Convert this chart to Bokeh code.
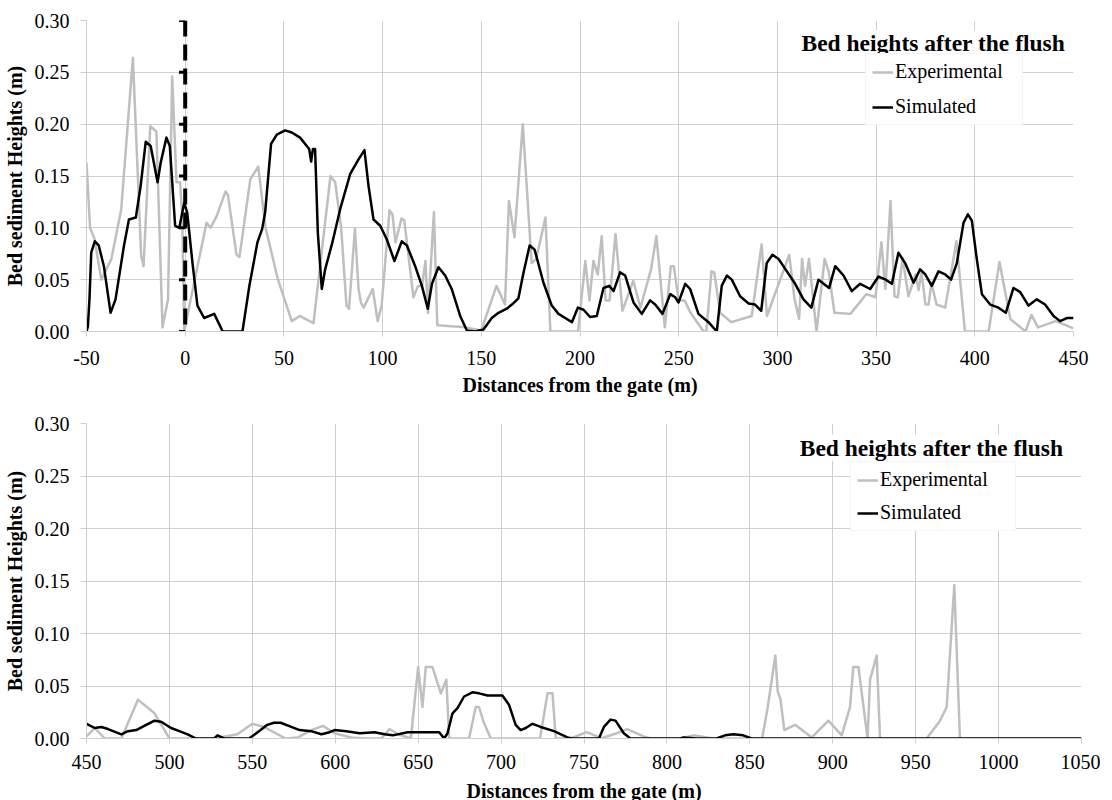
from bokeh.plotting import figure
from bokeh.models import (Range1d, FixedTicker, PrintfTickFormatter, Legend, LegendItem,
                          Label, Span)
from bokeh.layouts import column
from bokeh.embed import file_html
from bokeh.resources import INLINE

# ---------------- data ----------------
y_ticks = [0.0, 0.05, 0.10, 0.15, 0.20, 0.25, 0.30]
top_x_ticks = list(range(-50, 451, 50))
bot_x_ticks = list(range(450, 1051, 50))
gate_x = 0

exp_top_x = [-50, -48.2, -45.9, -42.5, -37.4, -32.4, -26.5, -22.3, -21.1, -17.7, -14.6, -11.5, -8.7,
             -6.6, -4.4, -2.6, -1.5, -0.5, 1.7, 10.8, 12.8, 15.9, 20.4, 21.6, 26.0, 27.5, 33.0, 37.0,
             40.7, 47.0, 54.0, 58.0, 65.0, 73.6, 76.0, 79.0, 81.7, 83.0, 86.0, 87.8, 89.0, 90.4, 95.0,
             97.5, 99.5, 103.5, 105.0, 106.5, 109.6, 111.0, 115.6, 118.0, 120.0, 121.7, 123.0, 126.0,
             127.7, 142.0, 150.0, 157.7, 162.0, 164.0, 166.8, 171.0, 175.5, 177.8, 182.5, 185.0, 199.0,
             202.7, 204.8, 206.8, 209.0, 211.0, 213.0, 215.0, 218.0, 221.5, 227.0, 230.6, 236.0, 238.7,
             243.0, 246.0, 247.5, 250.0, 253.0, 256.0, 262.6, 264.0, 266.6, 268.0, 271.0, 276.7, 287.0,
             292.0, 294.7, 306.0, 308.7, 311.0, 312.5, 314.0, 316.0, 319.8, 323.9, 326.0, 328.9, 337.0,
             345.0, 349.7, 352.7, 354.7, 357.3, 359.3, 361.0, 363.4, 366.4, 370.0, 371.5, 373.0, 375.0,
             376.6, 378.0, 380.6, 385.0, 390.7, 395.0, 407.0, 412.5, 418.0, 425.7, 428.7, 432.0, 441.0,
             450.0]
exp_top_y = [0.163, 0.100, 0.089, 0.050, 0.070, 0.118, 0.264, 0.073, 0.063, 0.198, 0.193, 0.004, 0.031,
             0.246, 0.144, 0.144, 0.110, 0.000, 0.021, 0.105, 0.100, 0.111, 0.135, 0.132, 0.074, 0.072,
             0.147, 0.159, 0.100, 0.050, 0.010, 0.015, 0.008, 0.150, 0.144, 0.100, 0.025, 0.022, 0.099,
             0.041, 0.028, 0.023, 0.041, 0.010, 0.025, 0.117, 0.113, 0.086, 0.109, 0.107, 0.033, 0.044,
             0.044, 0.068, 0.018, 0.115, 0.006, 0.004, 0.001, 0.044, 0.026, 0.126, 0.091, 0.200, 0.066,
             0.070, 0.110, 0.000, 0.000, 0.068, 0.030, 0.068, 0.055, 0.092, 0.030, 0.030, 0.094, 0.020,
             0.049, 0.023, 0.060, 0.092, 0.004, 0.063, 0.063, 0.030, 0.030, 0.018, 0.000, 0.000, 0.058,
             0.057, 0.018, 0.009, 0.015, 0.084, 0.015, 0.074, 0.031, 0.012, 0.070, 0.044, 0.070, 0.000,
             0.070, 0.058, 0.018, 0.017, 0.036, 0.033, 0.086, 0.041, 0.126, 0.034, 0.033, 0.071, 0.034,
             0.055, 0.040, 0.057, 0.026, 0.026, 0.047, 0.026, 0.023, 0.087, 0.000, 0.000, 0.067, 0.012,
             0.000, 0.016, 0.004, 0.010, 0.003]

sim_top_x = [-50, -49.3, -48.5, -47.6, -45.8, -43.8, -41.2, -37.8, -35.3, -31.0, -28.5, -25.0, -22.6,
             -20.0, -17.5, -14.0, -12.4, -9.5, -7.8, -5.1, -3.0, -0.5, 1.0, 3.7, 6.2, 9.6, 14.7, 19.0,
             29.0, 32.5, 36.6, 39.0, 40.5, 43.5, 46.4, 50.6, 54.0, 58.2, 61.6, 62.8, 63.8, 64.7, 65.8,
             67.2, 69.2, 70.9, 74.3, 78.5, 83.6, 87.8, 90.8, 92.9, 95.4, 98.8, 102.1, 106.0, 109.7,
             112.3, 116.5, 119.9, 122.9, 125.0, 128.3, 131.7, 135.0, 139.3, 142.7, 146.9, 151.1, 155.3,
             158.7, 162.9, 165.5, 168.8, 171.4, 174.5, 177.0, 181.5, 185.7, 189.1, 192.5, 195.9, 198.9,
             201.8, 205.1, 208.5, 211.9, 214.8, 217.0, 220.3, 222.9, 227.1, 231.3, 235.5, 238.1, 241.8,
             245.7, 248.2, 249.9, 253.3, 255.8, 260.0, 265.1, 269.3, 271.8, 274.4, 276.9, 281.1, 285.4,
             288.7, 291.8, 294.6, 297.5, 300.6, 304.8, 309.0, 313.2, 317.2, 320.8, 326.2, 329.3, 333.5,
             337.7, 341.9, 347.0, 351.2, 354.9, 358.0, 361.3, 364.7, 369.0, 372.3, 374.9, 378.2, 381.6,
             385.0, 388.0, 390.9, 394.3, 396.5, 398.5, 401.0, 403.6, 407.8, 412.0, 415.7, 419.6, 423.0,
             427.2, 431.4, 435.6, 439.9, 443.2, 446.6, 450.0]
sim_top_y = [0.000, 0.005, 0.031, 0.076, 0.087, 0.083, 0.063, 0.018, 0.031, 0.083, 0.108, 0.110, 0.140,
             0.183, 0.179, 0.144, 0.163, 0.187, 0.179, 0.102, 0.100, 0.124, 0.115, 0.066, 0.025, 0.013,
             0.017, 0.000, 0.000, 0.044, 0.086, 0.099, 0.115, 0.181, 0.190, 0.194, 0.192, 0.187, 0.179,
             0.176, 0.164, 0.176, 0.176, 0.095, 0.041, 0.060, 0.084, 0.118, 0.152, 0.166, 0.175, 0.140,
             0.108, 0.102, 0.089, 0.068, 0.087, 0.083, 0.063, 0.044, 0.022, 0.046, 0.062, 0.054, 0.041,
             0.015, 0.001, 0.000, 0.002, 0.013, 0.018, 0.022, 0.026, 0.032, 0.057, 0.083, 0.079, 0.047,
             0.025, 0.017, 0.013, 0.009, 0.023, 0.021, 0.014, 0.015, 0.042, 0.044, 0.039, 0.057, 0.054,
             0.028, 0.017, 0.030, 0.026, 0.017, 0.036, 0.033, 0.028, 0.046, 0.041, 0.017, 0.009, 0.000,
             0.044, 0.054, 0.050, 0.034, 0.027, 0.026, 0.020, 0.066, 0.074, 0.070, 0.058, 0.046, 0.031,
             0.023, 0.050, 0.042, 0.063, 0.054, 0.039, 0.046, 0.041, 0.053, 0.050, 0.046, 0.076, 0.066,
             0.047, 0.060, 0.055, 0.044, 0.058, 0.055, 0.050, 0.066, 0.105, 0.113, 0.107, 0.070, 0.036,
             0.026, 0.023, 0.018, 0.042, 0.038, 0.025, 0.031, 0.026, 0.015, 0.010, 0.013, 0.013]

exp_bot_x = [450, 455, 461, 471, 481, 491, 500, 527, 541, 550, 557, 570, 577.5, 585.5, 592.6, 599.6,
             609.6, 617.7, 627.7, 632.7, 637.8, 645.6, 650, 652.6, 654.6, 658.6, 663.7, 667, 668.7,
             680.7, 684.7, 686.7, 689.4, 693.8, 723.5, 728, 731, 733, 742, 751.6, 758, 760, 768, 776,
             786, 790, 808, 816, 824, 828, 857.4, 860.8, 865.4, 866.8, 868.5, 870.8, 877.3, 887.4,
             897.4, 905.4, 910.4, 912.4, 915.5, 921, 922.5, 926.5, 928.5, 956.6, 964.7, 968.7, 973.3,
             976.7, 1050]
exp_bot_y = [0.002, 0.010, 0.0, 0.0, 0.037, 0.024, 0.0, 0.0, 0.004, 0.014, 0.011, 0.0, 0.001, 0.008,
             0.012, 0.005, 0.001, 0.0, 0.0, 0.009, 0.004, 0.0, 0.068, 0.030, 0.068, 0.068, 0.043, 0.056,
             0.0, 0.0, 0.030, 0.030, 0.016, 0.0, 0.0, 0.043, 0.043, 0.0, 0.0, 0.006, 0.002, 0.0, 0.004,
             0.009, 0.002, 0.0, 0.0, 0.003, 0.001, 0.0, 0.0, 0.030, 0.079, 0.045, 0.037, 0.008, 0.013,
             0.001, 0.017, 0.003, 0.030, 0.068, 0.068, 0.0, 0.056, 0.079, 0.0, 0.0, 0.017, 0.030, 0.146,
             0.0, 0.0]

sim_bot_x = [450, 455, 459, 463, 471, 475, 480, 486, 491, 495, 501, 506, 511, 516, 527, 529, 533, 548,
             555, 559, 563, 567, 573.5, 578.5, 585.5, 591.6, 596.6, 599.6, 606.6, 614.7, 623.7, 629.8,
             634.7, 643.6, 649.6, 657.6, 662.7, 665.7, 667.7, 670.7, 673.7, 677.7, 682.7, 686.7, 691.8,
             700.8, 704.8, 708.8, 711.8, 714.9, 718.9, 723.9, 731.9, 740, 743, 759, 762, 766, 769, 774,
             778, 808, 810, 818, 830, 835, 840, 846, 851, 1050]
sim_bot_y = [0.014, 0.010, 0.011, 0.009, 0.004, 0.007, 0.008, 0.013, 0.017, 0.016, 0.010, 0.007, 0.004,
             0.0, 0.0, 0.003, 0.0, 0.0, 0.008, 0.013, 0.015, 0.015, 0.011, 0.008, 0.007, 0.004, 0.006,
             0.008, 0.007, 0.005, 0.006, 0.004, 0.003, 0.006, 0.006, 0.006, 0.006, 0.0, 0.005, 0.024,
             0.029, 0.040, 0.044, 0.043, 0.041, 0.041, 0.032, 0.013, 0.008, 0.010, 0.014, 0.011, 0.007,
             0.001, 0.0, 0.0, 0.011, 0.018, 0.017, 0.005, 0.0, 0.0, 0.001, 0.0, 0.0, 0.003, 0.004, 0.003,
             0.0, 0.0]

legend_title = "Bed heights after the flush"
x_title = "Distances from the gate (m)"
y_title = "Bed sediment Heights (m)"

# ---------------- style ----------------
FONT = "Liberation Serif"
GRID = "#cfcfcf"
EXP_COLOR = "#bfbfbf"
SIM_COLOR = "#000000"
FS = "20px"


def make_fig(x_start, x_end, xticks, frame_w, frame_h, b_top, b_bottom, b_right,
             x_std, x_title_std):
    p = figure(x_range=Range1d(x_start, x_end), y_range=Range1d(0, 0.30),
               frame_width=frame_w, frame_height=frame_h,
               min_border_left=83, min_border_top=b_top, min_border_bottom=b_bottom,
               min_border_right=b_right, output_backend="svg", toolbar_location=None)
    p.outline_line_color = None
    p.background_fill_color = "white"
    p.border_fill_color = "white"
    p.xaxis.ticker = FixedTicker(ticks=xticks)
    p.yaxis.ticker = FixedTicker(ticks=y_ticks)
    p.xaxis.formatter = PrintfTickFormatter(format="%d")
    p.yaxis.formatter = PrintfTickFormatter(format="%.2f")
    for ax in (p.xaxis[0], p.yaxis[0]):
        ax.axis_line_color = GRID
        ax.major_tick_line_color = GRID
        ax.minor_tick_line_color = None
        ax.major_tick_in = 0
        ax.major_tick_out = 6
        ax.major_label_text_font = FONT
        ax.major_label_text_font_size = FS
        ax.major_label_text_color = "black"
        ax.axis_label_text_font = FONT
        ax.axis_label_text_font_size = FS
        ax.axis_label_text_font_style = "bold"
        ax.axis_label_text_color = "black"
    p.xaxis.major_tick_out = 5
    p.xaxis.major_label_standoff = x_std
    p.xaxis.axis_label_standoff = x_title_std
    p.yaxis.major_label_standoff = 11
    p.yaxis.axis_label_standoff = 6
    p.xaxis.axis_label = x_title
    p.yaxis.axis_label = y_title
    p.xgrid.grid_line_color = GRID
    p.ygrid.grid_line_color = GRID
    p.xgrid.ticker = FixedTicker(ticks=xticks)
    p.ygrid.ticker = FixedTicker(ticks=y_ticks)
    return p


def add_series(p, ex, ey, sx, sy, loc, spacing, label_w, title_x, title_y):
    r_exp = p.line(ex, ey, line_color=EXP_COLOR, line_width=2.5, line_join="round")
    r_sim = p.line(sx, sy, line_color=SIM_COLOR, line_width=2.5, line_join="round")
    legend = Legend(items=[LegendItem(label="Experimental", renderers=[r_exp]),
                           LegendItem(label="Simulated", renderers=[r_sim])],
                    location=loc, padding=6, spacing=spacing, margin=0,
                    glyph_width=21, glyph_height=20, label_height=20, label_width=label_w,
                    label_standoff=2, label_text_font=FONT, label_text_font_size=FS,
                    label_text_color="black",
                    border_line_color="#ececec", background_fill_color="white",
                    background_fill_alpha=1.0)
    p.add_layout(legend)
    p.add_layout(Label(x=title_x, y=title_y, text=legend_title, text_align="center",
                       text_baseline="middle", text_font=FONT, text_font_size="23.5px",
                       text_font_style="bold", text_color="black",
                       background_fill_color="white", background_fill_alpha=1.0))
    return r_exp, r_sim


# top chart
p1 = make_fig(-50, 450, top_x_ticks, 987, 311, 20, 68, 27, 14, 6)
add_series(p1, exp_top_x, exp_top_y, sim_top_x, sim_top_y, (779, 206), 12, 121, 379, 0.278)
p1.add_layout(Span(location=gate_x, dimension="height", line_color="black", line_width=4,
                   line_dash="16 8"))
p1.scatter(x=[gate_x - 1.6] * len(y_ticks), y=y_ticks, marker="dash", size=6,
           line_color="black", line_width=3)

# bottom chart
p2 = make_fig(450, 1050, bot_x_ticks, 995, 315, 24, 60, 19, 11, 8)
add_series(p2, exp_bot_x, exp_bot_y, sim_bot_x, sim_bot_y, (764, 207), 10, 129, 959.6, 0.277)

layout = column(p1, p2, spacing=0)
open("out.html", "w").write(file_html(layout, INLINE))
